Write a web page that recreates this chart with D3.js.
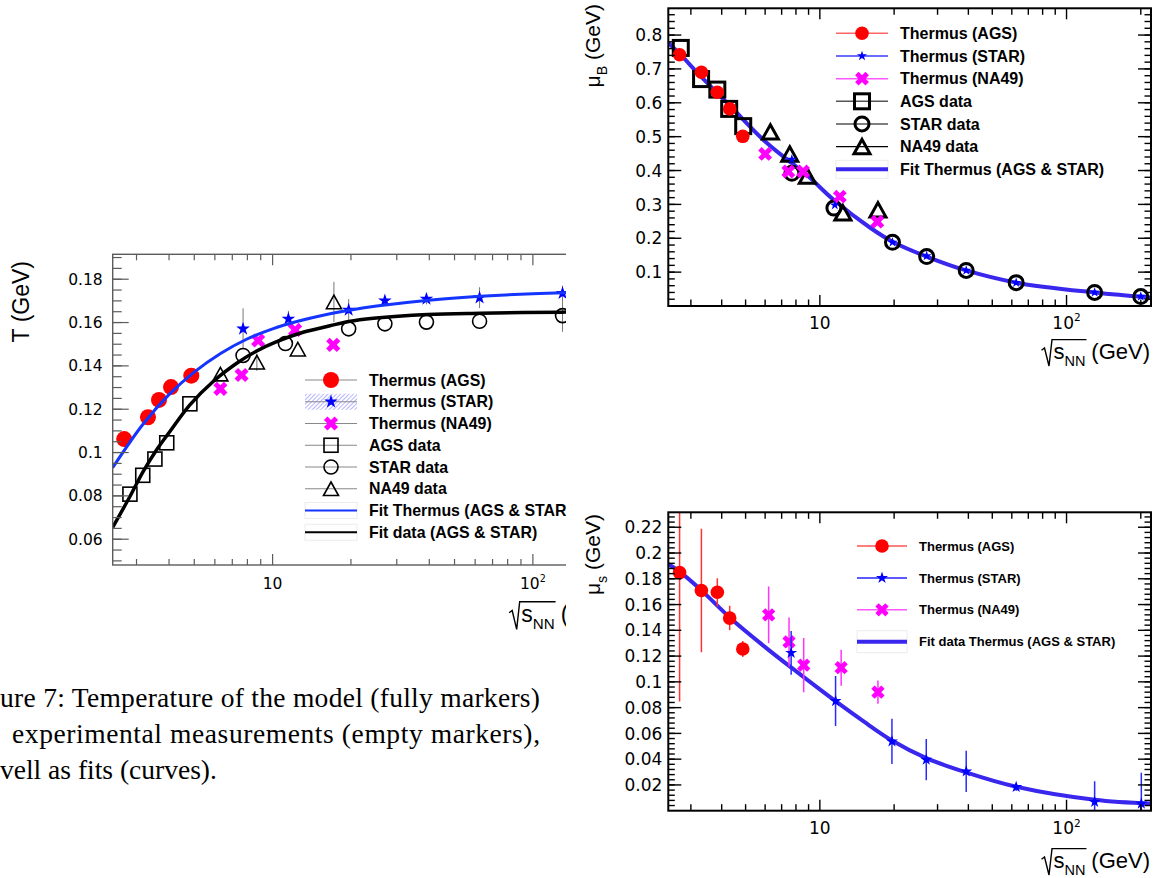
<!DOCTYPE html>
<html>
<head>
<meta charset="utf-8">
<script src="https://cdn.jsdelivr.net/npm/d3@7"></script>
<style>
  body { margin: 0; background: #fff; }
  svg { display: block; }
  text { font-family: "Liberation Sans", Arial, sans-serif; fill: #000; }
  .tick-label { font-family: "DejaVu Sans", sans-serif; }
  .caption { font-family: "Liberation Serif", "Times New Roman", serif; font-size: 27.5px; }
</style>
</head>
<body>
<svg id="fig" width="1163" height="878"></svg>
<script>
// ---------- axis ticks ----------
const xMajorTicks = [10, 100];
const xMinorTicks = [3, 4, 5, 6, 7, 8, 9, 20, 30, 40, 50, 60, 70, 80, 90, 200];
const yMajorT = [0.06, 0.08, 0.1, 0.12, 0.14, 0.16, 0.18];
const yLabelsT = ["0.06", "0.08", "0.1", "0.12", "0.14", "0.16", "0.18"];
const yMajorMuB = [0.1, 0.2, 0.3, 0.4, 0.5, 0.6, 0.7, 0.8];
const yLabelsMuB = ["0.1", "0.2", "0.3", "0.4", "0.5", "0.6", "0.7", "0.8"];
const yMajorMuS = [0.02, 0.04, 0.06, 0.08, 0.1, 0.12, 0.14, 0.16, 0.18, 0.2, 0.22];
const yLabelsMuS = ["0.02", "0.04", "0.06", "0.08", "0.1", "0.12", "0.14", "0.16", "0.18", "0.2", "0.22"];

// ---------- temperature panel (left) ----------
const tAgsThermusX = [2.69, 3.32, 3.66, 4.07, 4.87];
const tAgsThermusY = [0.1062, 0.1163, 0.1243, 0.1302, 0.1355];
const tAgsDataX = [2.83, 3.17, 3.53, 3.92, 4.81];
const tAgsDataY = [0.0808, 0.0895, 0.097, 0.1045, 0.1225];
const tStarThermusX = [7.7, 11.5, 19.6, 27, 39, 62.4, 130];
const tStarThermusY = [0.1571, 0.1617, 0.1658, 0.1701, 0.1709, 0.1715, 0.1735];
const tStarThermusErr = [0.0095, 0.0037, 0.005, 0.002, 0.0025, 0.0048, 0.0035];
const tStarDataX = [7.7, 11.2, 19.6, 27, 39, 62.4, 130];
const tStarDataY = [0.1448, 0.1503, 0.1571, 0.1594, 0.1602, 0.1606, 0.1632];
const tStarDataErr = [0, 0, 0, 0, 0, 0, 0.0075];
const tNa49ThermusX = [6.3, 7.6, 8.8, 12.2, 17.1];
const tNa49ThermusY = [0.1294, 0.1358, 0.1517, 0.1566, 0.1497];
const tNa49DataX = [6.3, 8.7, 12.5, 17.2];
const tNa49DataY = [0.1362, 0.1417, 0.1477, 0.1695];
const tNa49DataErr = [0, 0.004, 0, 0.0093];
const tFitThermusX = [2.43, 3.16, 3.98, 5.01, 6.31, 7.94, 10, 12.6, 15.8, 20, 25.1, 39.8, 63.1, 100, 220];
const tFitThermusY = [0.093, 0.1127, 0.1265, 0.1372, 0.1457, 0.1523, 0.1571, 0.1607, 0.1635, 0.1658, 0.1676, 0.1703, 0.1721, 0.1733, 0.1744];
const tFitDataX = [2.43, 2.83, 3.18, 3.58, 4.03, 4.81, 5.91, 7.28, 8.69, 10.37, 13.1, 16.6, 19.6, 24.4, 39.4, 62.8, 129, 220];
const tFitDataY = [0.0655, 0.0797, 0.0912, 0.1012, 0.1097, 0.122, 0.1328, 0.1412, 0.1469, 0.1512, 0.1555, 0.1585, 0.1605, 0.162, 0.1637, 0.1643, 0.1648, 0.165];

// ---------- mu_B panel (top right) ----------
const bAgsThermusX = [2.7, 3.31, 3.84, 4.31, 4.87];
const bAgsThermusY = [0.742, 0.69, 0.631, 0.582, 0.501];
const bAgsDataX = [2.73, 3.3, 3.84, 4.29, 4.89];
const bAgsDataY = [0.762, 0.67, 0.639, 0.582, 0.531];
const bStarDataX = [7.7, 11.4, 19.7, 27.1, 39.2, 62.5, 130, 200];
const bStarDataY = [0.392, 0.289, 0.188, 0.146, 0.105, 0.069, 0.04, 0.028];
const bStarThermusX = [7.7, 11.5, 19.7, 27.1, 39.2, 62.5, 130, 200];
const bStarThermusY = [0.433, 0.298, 0.188, 0.148, 0.105, 0.069, 0.04, 0.028];
const bNa49ThermusX = [6.0, 7.45, 8.55, 12.05, 17.1];
const bNa49ThermusY = [0.449, 0.397, 0.397, 0.323, 0.249];
const bNa49DataX = [6.3, 7.55, 8.9, 12.4, 17.2];
const bNa49DataY = [0.514, 0.449, 0.384, 0.275, 0.284];
const bFitX = [2.43, 2.7, 3.3, 4.35, 6.1, 8.9, 11.4, 16, 19.7, 27.1, 39.2, 62.5, 130, 220];
const bFitY = [0.777, 0.745, 0.677, 0.589, 0.481, 0.385, 0.313, 0.231, 0.19, 0.146, 0.105, 0.069, 0.04, 0.025];

// ---------- mu_S panel (bottom right) ----------
const sAgsThermusX = [2.7, 3.31, 3.84, 4.31, 4.87];
const sAgsThermusY = [0.1848, 0.1709, 0.1695, 0.1495, 0.1255];
const sAgsThermusErr = [0.1, 0.048, 0.011, 0.0095, 0.0063];
const sStarThermusX = [7.65, 11.58, 19.6, 27, 39.2, 62.5, 130, 201];
const sStarThermusY = [0.1225, 0.0851, 0.0538, 0.0396, 0.0305, 0.0184, 0.0068, 0.0055];
const sStarThermusErr = [0.017, 0.0194, 0.0175, 0.016, 0.016, 0.003, 0.016, 0.024];
const sNa49ThermusX = [6.2, 7.5, 8.6, 12.2, 17.2];
const sNa49ThermusY = [0.152, 0.131, 0.113, 0.111, 0.092];
const sNa49ThermusErr = [0.022, 0.019, 0.021, 0.014, 0.009];
const sFitX = [2.43, 2.7, 3.31, 4.31, 6, 8, 11.58, 15, 19.6, 27, 39.2, 62.5, 130, 220];
const sFitY = [0.1915, 0.1855, 0.171, 0.15, 0.127, 0.1083, 0.085, 0.0695, 0.0545, 0.0408, 0.0297, 0.0186, 0.0085, 0.0055];

// ---------- legend texts ----------
const legendT = ["Thermus (AGS)", "Thermus (STAR)", "Thermus (NA49)", "AGS data", "STAR data", "NA49 data",
                 "Fit Thermus (AGS & STAR)", "Fit data (AGS & STAR)"];
const legendMuB = ["Thermus (AGS)", "Thermus (STAR)", "Thermus (NA49)", "AGS data", "STAR data", "NA49 data",
                   "Fit Thermus (AGS & STAR)"];
const legendMuS = ["Thermus (AGS)", "Thermus (STAR)", "Thermus (NA49)", "Fit data Thermus (AGS & STAR)"];
const captionLines = ["ure 7: Temperature of the model (fully markers)",
                      "experimental measurements (empty markers),",
                      "vell as fits (curves)."];

const RED = "#ff0000", BLUE = "#0000ff", MAG = "#ff00ff", FITBLUE = "#3a27ee";

const svg = d3.select("#fig");
const defs = svg.append("defs");

function clipRect(id, x, y, w, h) {
    defs.append("clipPath").attr("id", id).append("rect")
        .attr("x", x).attr("y", y).attr("width", w).attr("height", h);
    return "url(#" + id + ")";
}

const hatch = defs.append("pattern").attr("id", "hatch")
    .attr("patternUnits", "userSpaceOnUse").attr("width", 3).attr("height", 3)
    .attr("patternTransform", "rotate(45)");
hatch.append("line").attr("x1", 0).attr("y1", 0).attr("x2", 0).attr("y2", 3)
    .attr("stroke", "#6b6bff").attr("stroke-width", 1);

function mark(g, kind, px, py, m) {
    if (kind === "dot") {
        g.append("circle").attr("cx", px).attr("cy", py).attr("r", m.r).attr("fill", m.color);
    } else if (kind === "ring") {
        g.append("circle").attr("cx", px).attr("cy", py).attr("r", m.r)
            .attr("fill", "none").attr("stroke", "#000").attr("stroke-width", m.sw);
    } else if (kind === "box") {
        g.append("rect").attr("x", px - m.r).attr("y", py - m.r).attr("width", 2 * m.r).attr("height", 2 * m.r)
            .attr("fill", "none").attr("stroke", "#000").attr("stroke-width", m.sw);
    } else if (kind === "tri") {
        const w = m.r, h = m.r * 0.9;
        g.append("path").attr("d", `M${px},${py - h} L${px + w},${py + h} L${px - w},${py + h} Z`)
            .attr("fill", "none").attr("stroke", "#000").attr("stroke-width", m.sw);
    } else if (kind === "star") {
        g.append("path").attr("transform", `translate(${px},${py})`)
            .attr("d", d3.symbol(d3.symbolStar, m.size)()).attr("fill", m.color);
    } else if (kind === "cross") {
        g.append("path").attr("transform", `translate(${px},${py}) rotate(45)`)
            .attr("d", d3.symbol(d3.symbolCross, m.size)()).attr("fill", m.color);
    }
}

function drawSeries(g, x, y, xs, ys, errs, kind, m, ec, ew) {
    const pts = xs.map((v, i) => ({x: v, y: ys[i], e: errs ? errs[i] : 0}));
    pts.forEach(p => {
        if (p.e > 0) {
            g.append("line").attr("x1", x(p.x)).attr("x2", x(p.x))
                .attr("y1", y(p.y - p.e)).attr("y2", y(p.y + p.e))
                .attr("stroke", ec).attr("stroke-width", ew);
        }
    });
    pts.forEach(p => mark(g, kind, x(p.x), y(p.y), m));
}

function drawFit(g, x, y, xs, ys, color, width) {
    const line = d3.line().x(d => x(d[0])).y(d => y(d[1])).curve(d3.curveCatmullRom.alpha(0.5));
    g.append("path").attr("d", line(xs.map((v, i) => [v, ys[i]])))
        .attr("fill", "none").attr("stroke", color).attr("stroke-width", width);
}

function drawAxes(g, x, y, st) {
    const [xa, xb] = x.range(), [ya, yb] = y.range();
    const ln = (x1, y1, x2, y2) => g.append("line")
        .attr("x1", x1).attr("y1", y1).attr("x2", x2).attr("y2", y2)
        .attr("stroke", st.color).attr("stroke-width", st.tw);
    xMinorTicks.forEach(v => {
        const px = x(v);
        if (px < xa || px > xb) return;
        ln(px, ya, px, ya - st.xMin);
        ln(px, yb, px, yb + st.xMin);
    });
    xMajorTicks.forEach(v => {
        const px = x(v);
        ln(px, ya, px, ya - st.xMaj);
        ln(px, yb, px, yb + st.xMaj);
    });
    st.yMinor.forEach(v => {
        const py = y(v);
        if (py < yb || py > ya) return;
        ln(xa, py, xa + st.yMin, py);
        if (st.right) ln(xb, py, xb - st.yMin, py);
    });
    st.yMajor.forEach(v => {
        const py = y(v);
        ln(xa, py, xa + st.yMaj, py);
        if (st.right) ln(xb, py, xb - st.yMaj, py);
    });
    g.append("rect").attr("x", xa).attr("y", yb).attr("width", xb - xa).attr("height", ya - yb)
        .attr("fill", "none").attr("stroke", st.color).attr("stroke-width", st.fw);

    g.selectAll(null).data(st.yMajor).join("text")
        .attr("class", "tick-label")
        .attr("x", xa - st.lgap).attr("y", d => y(d)).attr("dy", "0.36em")
        .attr("text-anchor", "end").style("font-size", st.fs + "px")
        .text((d, i) => st.yLabels[i]);

    g.append("text").attr("class", "tick-label")
        .attr("x", x(10)).attr("y", ya + st.xlab).attr("text-anchor", "middle")
        .style("font-size", st.fs + "px").text("10");
    const t2 = g.append("text").attr("class", "tick-label")
        .attr("x", x(100)).attr("y", ya + st.xlab).attr("text-anchor", "middle")
        .style("font-size", st.fs + "px");
    t2.append("tspan").text("10");
    t2.append("tspan").attr("dy", -0.45 * st.fs).style("font-size", (0.62 * st.fs) + "px").text("2");
}

function xTitle(g, xRight, yBase, fs) {
    const grp = g.append("g");
    const tS = grp.append("text").attr("x", 12).attr("y", 0).style("font-size", fs + "px").text("s");
    const ws = tS.node().getComputedTextLength();
    const tN = grp.append("text").attr("x", 12 + ws).attr("y", 0.3 * fs)
        .style("font-size", (0.66 * fs) + "px").text("NN");
    const wn = tN.node().getComputedTextLength();
    const endBar = 12 + ws + wn + 1;
    grp.append("path")
        .attr("d", `M0,${-0.4 * fs} L3,${-0.5 * fs} L7.5,${0.32 * fs} L10.5,${-0.88 * fs} L${endBar},${-0.88 * fs}`)
        .attr("fill", "none").attr("stroke", "#000").attr("stroke-width", 1.4);
    const tG = grp.append("text").attr("x", endBar + 0.22 * fs).attr("y", 0)
        .style("font-size", fs + "px").text("(GeV)");
    const total = endBar + 0.22 * fs + tG.node().getComputedTextLength();
    grp.attr("transform", `translate(${xRight - total},${yBase})`);
}

function yTitle(g, xBase, yTop, fs, main, sub) {
    const t = g.append("text").attr("transform", `translate(${xBase},${yTop}) rotate(-90)`)
        .attr("text-anchor", "end").style("font-size", fs + "px");
    t.append("tspan").text(main);
    if (sub) {
        t.append("tspan").attr("dy", 0.32 * fs).style("font-size", (0.68 * fs) + "px").text(sub);
        t.append("tspan").attr("dy", -0.32 * fs).text(" (GeV)");
    } else {
        t.append("tspan").text(" (GeV)");
    }
}

function drawLegend(g, rows, o) {
    rows.forEach((r, i) => {
        const cy = o.y0 + i * o.dy;
        if (r.box === "hatch") {
            g.append("rect").attr("x", o.x0).attr("y", cy - o.bh).attr("width", o.x1 - o.x0)
                .attr("height", 2 * o.bh).attr("fill", "url(#hatch)");
        } else if (r.box) {
            g.append("rect").attr("x", o.x0).attr("y", cy - o.bh).attr("width", o.x1 - o.x0)
                .attr("height", 2 * o.bh).attr("fill", "none").attr("stroke", "#ececec");
        }
        g.append("line").attr("x1", o.x0).attr("x2", o.x1).attr("y1", cy).attr("y2", cy)
            .attr("stroke", r.lc).attr("stroke-width", r.lw);
        if (r.kind) mark(g, r.kind, o.xm, cy, r.m);
        g.append("text").attr("x", o.xt).attr("y", cy).attr("dy", "0.36em")
            .style("font-size", o.fs + "px").style("font-weight", "bold").text(r.label);
    });
}

// ================= LEFT: T =================
const gL = svg.append("g").attr("clip-path", clipRect("leftClip", 0, 0, 566, 680));
const xL = d3.scaleLog().domain([2.43, 220]).range([112.7, 622]);
const yL = d3.scaleLinear().domain([0.0481, 0.1915]).range([565, 254.3]);

const gLd = gL.append("g").attr("clip-path", clipRect("leftFrame", 112.7, 254.3, 509.3, 310.7));
const grey = "#777";
drawSeries(gLd, xL, yL, tStarThermusX, tStarThermusY, tStarThermusErr, "star", {size: 58, color: BLUE}, grey, 1);
drawSeries(gLd, xL, yL, tStarDataX, tStarDataY, tStarDataErr, "ring", {r: 7, sw: 1.6}, grey, 1);
drawSeries(gLd, xL, yL, tNa49DataX, tNa49DataY, tNa49DataErr, "tri", {r: 7.5, sw: 1.6}, grey, 1);
drawSeries(gLd, xL, yL, tNa49ThermusX, tNa49ThermusY, null, "cross", {size: 125, color: MAG});
drawSeries(gLd, xL, yL, tAgsDataX, tAgsDataY, null, "box", {r: 7, sw: 1.6});
drawSeries(gLd, xL, yL, tAgsThermusX, tAgsThermusY, null, "dot", {r: 8, color: RED});
drawFit(gLd, xL, yL, tFitThermusX, tFitThermusY, "#1434ff", 3);
drawFit(gLd, xL, yL, tFitDataX, tFitDataY, "#000", 3.5);

drawAxes(gL, xL, yL, {
    color: "#5c5c5c", tw: 1.2, fw: 1.4, xMin: 6, xMaj: 11, yMin: 9, yMaj: 16,
    yMajor: yMajorT, yLabels: yLabelsT, yMinor: d3.range(0.05, 0.1915, 0.005),
    right: true, lgap: 10, fs: 15.5, xlab: 24
});
xTitle(gL, 622, 622, 23);
yTitle(gL, 29, 261, 23, "T", null);

const lgGrey = "#888";
drawLegend(gL, [
    {label: legendT[0], lc: lgGrey, lw: 1, kind: "dot", m: {r: 8, color: RED}},
    {label: legendT[1], lc: lgGrey, lw: 1, kind: "star", m: {size: 58, color: BLUE}, box: "hatch"},
    {label: legendT[2], lc: lgGrey, lw: 1, kind: "cross", m: {size: 125, color: MAG}},
    {label: legendT[3], lc: lgGrey, lw: 1, kind: "box", m: {r: 7, sw: 1.6}},
    {label: legendT[4], lc: lgGrey, lw: 1, kind: "ring", m: {r: 7, sw: 1.6}},
    {label: legendT[5], lc: lgGrey, lw: 1, kind: "tri", m: {r: 7.5, sw: 1.6}},
    {label: legendT[6], lc: "#1434ff", lw: 2, box: true},
    {label: legendT[7], lc: "#000", lw: 2, box: true}
], {x0: 305, x1: 357, xm: 331, xt: 369, y0: 380, dy: 21.75, bh: 8, fs: 15.9});

// ================= TOP RIGHT: mu_B =================
const gT = svg.append("g");
const xR = d3.scaleLog().domain([2.43, 220]).range([668.3, 1151]);
const yT = d3.scaleLinear().domain([0, 0.879]).range([306, 8.3]);
const gTd = gT.append("g").attr("clip-path", clipRect("topFrame", 668.3, 8.3, 482.7, 297.7));
drawFit(gTd, xR, yT, bFitX, bFitY, FITBLUE, 4);
drawSeries(gTd, xR, yT, bAgsDataX, bAgsDataY, null, "box", {r: 7.5, sw: 3});
drawSeries(gTd, xR, yT, bNa49DataX, bNa49DataY, null, "tri", {r: 8, sw: 3});
drawSeries(gTd, xR, yT, bStarDataX, bStarDataY, null, "ring", {r: 7, sw: 3});
drawSeries(gTd, xR, yT, bAgsThermusX, bAgsThermusY, null, "dot", {r: 6.8, color: RED});
drawSeries(gTd, xR, yT, bNa49ThermusX, bNa49ThermusY, null, "cross", {size: 120, color: MAG});
drawSeries(gTd, xR, yT, bStarThermusX, bStarThermusY, null, "star", {size: 32, color: BLUE});

drawAxes(gT, xR, yT, {
    color: "#000", tw: 1.4, fw: 2, xMin: 6.5, xMaj: 11, yMin: 6.5, yMaj: 13,
    yMajor: yMajorMuB, yLabels: yLabelsMuB, yMinor: d3.range(0.02, 0.879, 0.02),
    right: true, lgap: 6, fs: 17, xlab: 23
});
xTitle(gT, 1150, 359, 22);
yTitle(gT, 600, 4, 21, "μ", "B");

drawLegend(gT, [
    {label: legendMuB[0], lc: "#ff6666", lw: 1.5, kind: "dot", m: {r: 6.8, color: RED}},
    {label: legendMuB[1], lc: "#3a3aff", lw: 1.5, kind: "star", m: {size: 32, color: BLUE}},
    {label: legendMuB[2], lc: "#ff55ff", lw: 1.5, kind: "cross", m: {size: 120, color: MAG}},
    {label: legendMuB[3], lc: "#555", lw: 1.5, kind: "box", m: {r: 7.5, sw: 3}},
    {label: legendMuB[4], lc: "#000", lw: 1.2, kind: "ring", m: {r: 7, sw: 3}},
    {label: legendMuB[5], lc: "#000", lw: 1.2, kind: "tri", m: {r: 8, sw: 3}},
    {label: legendMuB[6], lc: FITBLUE, lw: 4, box: true}
], {x0: 836, x1: 888, xm: 862, xt: 900, y0: 33.3, dy: 22.67, bh: 9, fs: 16});

// ================= BOTTOM RIGHT: mu_S =================
const gB = svg.append("g");
const yB = d3.scaleLinear().domain([0, 0.2316]).range([810.7, 512.3]);
const gBd = gB.append("g").attr("clip-path", clipRect("botFrame", 668.3, 512.3, 482.7, 298.4));
drawFit(gBd, xR, yB, sFitX, sFitY, FITBLUE, 4);
drawSeries(gBd, xR, yB, sAgsThermusX, sAgsThermusY, sAgsThermusErr, "dot", {r: 6.8, color: RED}, "#ff3333", 1.5);
drawSeries(gBd, xR, yB, sNa49ThermusX, sNa49ThermusY, sNa49ThermusErr, "cross", {size: 110, color: MAG}, "#ff33ff", 1.5);
drawSeries(gBd, xR, yB, sStarThermusX, sStarThermusY, sStarThermusErr, "star", {size: 45, color: BLUE}, "#2a2aff", 1.5);

drawAxes(gB, xR, yB, {
    color: "#000", tw: 1.4, fw: 2, xMin: 6.5, xMaj: 11, yMin: 6.5, yMaj: 13,
    yMajor: yMajorMuS, yLabels: yLabelsMuS, yMinor: d3.range(0.004, 0.2316, 0.004),
    right: true, lgap: 6, fs: 17, xlab: 23.5
});
xTitle(gB, 1150, 868, 22);
yTitle(gB, 600, 514, 21, "μ", "s");

drawLegend(gB, [
    {label: legendMuS[0], lc: "#ff5555", lw: 1.5, kind: "dot", m: {r: 6.8, color: RED}},
    {label: legendMuS[1], lc: "#5a5aff", lw: 2, kind: "star", m: {size: 45, color: BLUE}},
    {label: legendMuS[2], lc: "#ff55ff", lw: 1.5, kind: "cross", m: {size: 110, color: MAG}},
    {label: legendMuS[3], lc: FITBLUE, lw: 4, box: true}
], {x0: 857, x1: 907, xm: 882, xt: 919, y0: 546, dy: 31.9, bh: 11, fs: 13});

// ================= caption =================
svg.append("text").attr("class", "caption").attr("x", 0).attr("y", 707)
    .attr("textLength", 540).attr("lengthAdjust", "spacing").text(captionLines[0]);
svg.append("text").attr("class", "caption").attr("x", 12).attr("y", 743)
    .attr("textLength", 528).attr("lengthAdjust", "spacing").text(captionLines[1]);
svg.append("text").attr("class", "caption").attr("x", 0).attr("y", 779).text(captionLines[2]);
</script>
</body>
</html>
